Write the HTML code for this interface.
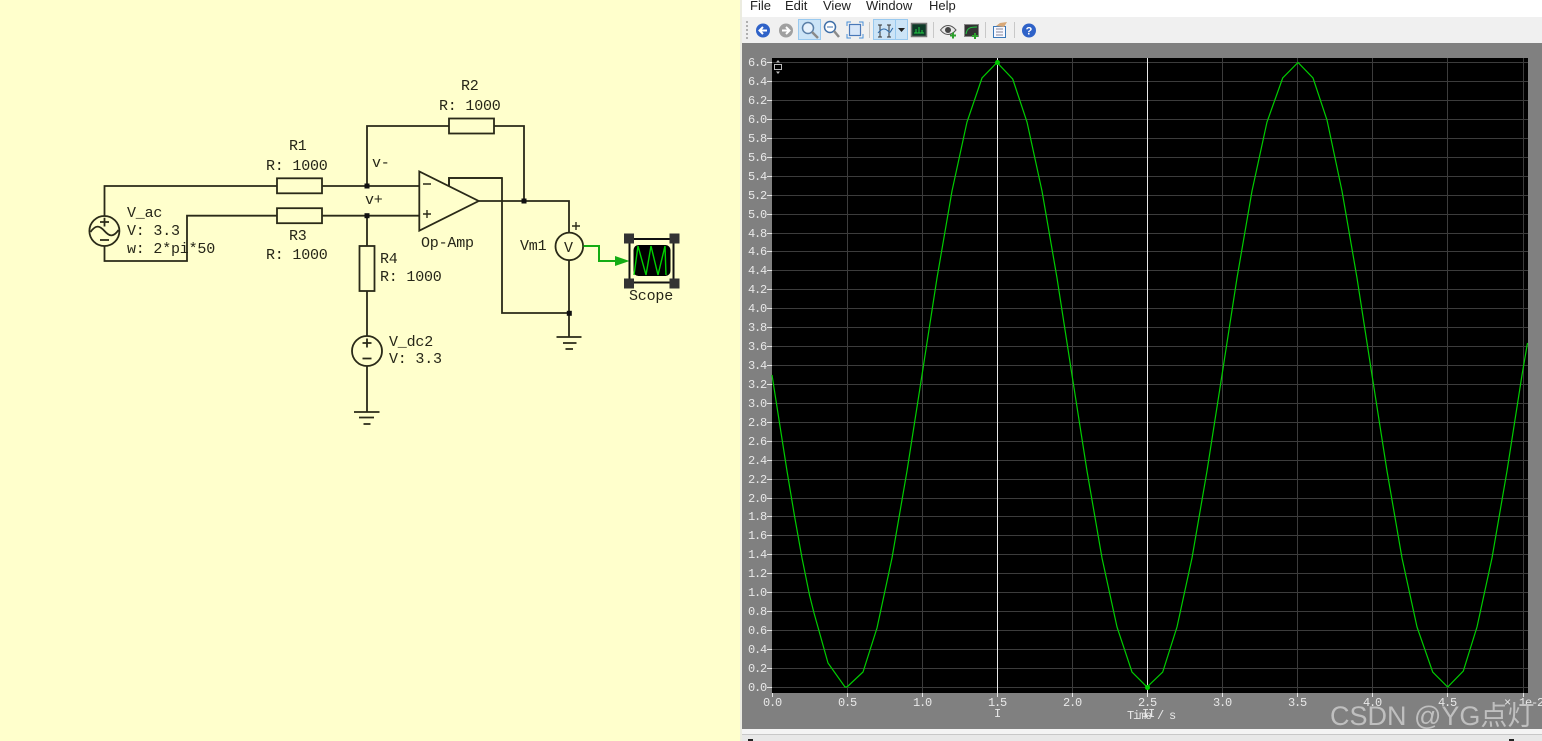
<!DOCTYPE html>
<html><head><meta charset="utf-8"><style>
html,body{margin:0;padding:0;background:#ffffcc;width:1542px;height:741px;overflow:hidden}
svg{display:block}
.m{font-family:"Liberation Mono",monospace;font-size:15px;letter-spacing:-.2px;fill:#262618}
.a{font-family:"Liberation Mono",monospace;font-size:12px;letter-spacing:-1.2px;fill:#e8e8e8}
.u{font-family:"Liberation Sans",sans-serif;font-size:13px;fill:#222}
</style></head><body>
<svg width="1542" height="741" viewBox="0 0 1542 741" xmlns="http://www.w3.org/2000/svg">
<rect width="1542" height="741" fill="#ffffcc"/>
<!-- circuit wires -->
<g fill="none" stroke="#2a2a18" stroke-width="1.8">
<path d="M104.5 216V186H277M322 186H419M104.5 246V261H187V215.7H277M322 215.7H419"/>
<path d="M367 186V126H449M494 126H524V201M367 215.7V246M367 291V336M367 366V412"/>
<path d="M479 201H569V233M569 260V337M449 186V178H502V313H569"/>
<path d="M354 412H379.5M359 417.5H374M363.5 424H370.5M556.5 337H581.5M563 343H576.5M565.5 349H573" stroke-width="1.8"/>
<rect x="277" y="178.3" width="45" height="15" fill="#ffffcc"/>
<rect x="277" y="208.2" width="45" height="15" fill="#ffffcc"/>
<rect x="449" y="118.5" width="45" height="15" fill="#ffffcc"/>
<rect x="359.5" y="246" width="15" height="45" fill="#ffffcc"/>
<path d="M419.3 171.5V230.7L478.7 201Z" fill="#ffffcc"/>
<path d="M449 186V178H502"/>
<circle cx="104.4" cy="231" r="15" fill="#ffffcc"/>
<circle cx="367" cy="351" r="15" fill="#ffffcc"/>
<circle cx="569.3" cy="246.4" r="13.8" fill="#ffffcc"/>
<path d="M90.5 232C96 224 100 226 104.5 231S113 238 118.5 230"/>
<path d="M100 222H109M104.5 217.8V226.5M100 240H109"/>
<path d="M362.5 343H371.5M367 338.5V347.5M362.5 358.5H371.5"/>
<path d="M423 184H431M423 214H431M427 210V218M572 226H580M576 222V230" stroke-width="1.4"/>
</g>
<g fill="#111">
<rect x="364.5" y="183.5" width="5" height="5"/><rect x="364.5" y="213.2" width="5" height="5"/>
<rect x="521.5" y="198.5" width="5" height="5"/><rect x="566.8" y="310.8" width="5" height="5"/>
</g>
<!-- labels -->
<g class="m">
<text x="289" y="150">R1</text><text x="266" y="170">R: 1000</text>
<text x="289" y="240">R3</text><text x="266" y="259">R: 1000</text>
<text x="461" y="90">R2</text><text x="439" y="110">R: 1000</text>
<text x="380" y="263">R4</text><text x="380" y="281">R: 1000</text>
<text x="127" y="217">V_ac</text><text x="127" y="235">V: 3.3</text><text x="127" y="253">w: 2*pi*50</text>
<text x="389" y="346">V_dc2</text><text x="389" y="363">V: 3.3</text>
<text x="372" y="167">v-</text><text x="365" y="204">v+</text>
<text x="421" y="247">Op-Amp</text><text x="520" y="250">Vm1</text><text x="564" y="252">V</text>
<text x="629" y="300">Scope</text>
</g>
<!-- signal + scope -->
<path d="M583.5 246H599V261H616" fill="none" stroke="#14ac14" stroke-width="2"/>
<path d="M615 256L629.5 261L615 266Z" fill="#14ac14"/>
<rect x="629.5" y="239" width="44" height="43.5" fill="#ffffcc" stroke="#111" stroke-width="2"/>
<rect x="633.5" y="245" width="37" height="31" rx="5" fill="#000"/>
<path d="M634 275L638 246L646 275L651 246L658 275L665 246L666 275" fill="none" stroke="#00d000" stroke-width="1.4"/>
<g fill="#333"><rect x="624" y="233.5" width="10" height="10"/><rect x="669.5" y="233.5" width="10" height="10"/><rect x="624" y="278.5" width="10" height="10"/><rect x="669.5" y="278.5" width="10" height="10"/></g>

<!-- window -->
<rect x="740" y="0" width="802" height="18" fill="#fff"/>
<rect x="742" y="17" width="800" height="26" fill="#f0f0f0"/>
<rect x="742" y="43" width="800" height="686" fill="#808080"/>
<rect x="740" y="0" width="2" height="741" fill="#ecece0"/>
<rect x="742" y="729" width="800" height="5" fill="#f4f4f4"/>
<rect x="742" y="734" width="800" height="7" fill="#e8e8e8"/>
<rect x="742" y="734" width="800" height="1" fill="#c8c8c8"/>
<rect x="748" y="739" width="5" height="2" fill="#222"/><rect x="1509" y="739" width="5" height="2" fill="#222"/>
<g class="u"><text x="750" y="10">File</text><text x="785" y="10">Edit</text><text x="823" y="10">View</text><text x="866" y="10">Window</text><text x="929" y="10">Help</text></g>
<!-- toolbar -->
<g fill="#b0b0b0"><rect x="746" y="21" width="2" height="2"/><rect x="746" y="25" width="2" height="2"/><rect x="746" y="29" width="2" height="2"/><rect x="746" y="33" width="2" height="2"/><rect x="746" y="37" width="2" height="2"/></g>
<circle cx="763" cy="30.5" r="7" fill="#2f62c8"/><path d="M767 30.5H760M763 27L759.5 30.5L763 34" fill="none" stroke="#fff" stroke-width="2"/>
<circle cx="786" cy="30.5" r="7" fill="#a0a0a0"/><path d="M782 30.5H789M786 27L789.5 30.5L786 34" fill="none" stroke="#fff" stroke-width="2"/>
<rect x="798.5" y="19.5" width="22" height="20" fill="#cce4f7" stroke="#99c9ef"/>
<circle cx="808" cy="28" r="5.5" fill="#e8f2fc" stroke="#5a7fa8" stroke-width="1.5"/><path d="M812 32L818 38" stroke="#8a8a8a" stroke-width="2.5"/>
<circle cx="830" cy="27" r="5.5" fill="#fff" stroke="#3f6fa8" stroke-width="1.5"/><path d="M827 27H833" stroke="#3f6fa8"/><path d="M834 31L839 37" stroke="#8a8a8a" stroke-width="2.5"/>
<rect x="849.5" y="24.5" width="11" height="11" fill="#d7e6f8" stroke="#4a78b8" stroke-width="1.2"/><path d="M847 26V22H851M859 22H863V26M863 34V38H859M851 38H847V34" fill="none" stroke="#4a90d8"/>
<rect x="869" y="22" width="1" height="16" fill="#c8c8c8"/>
<rect x="873.5" y="19.5" width="34" height="20" fill="#cce4f7" stroke="#99c9ef"/><rect x="895" y="20" width="1" height="19" fill="#99c9ef"/>
<path d="M880 25V37M889 25V37M878 25H882M878 37H882M887 25H891M887 37H891" stroke="#333" fill="none"/><path d="M878 33C882 28 885 28 888 31S890 31 893 28" stroke="#2f6aa8" fill="none"/>
<path d="M898 28H905L901.5 32Z" fill="#222"/>
<rect x="911.5" y="23.5" width="15" height="13" fill="#0e3a28" stroke="#777" stroke-width="1.5"/><path d="M914 33H924M916 33V29M919 33V27M922 33V30" stroke="#22cc44"/>
<rect x="933" y="22" width="1" height="16" fill="#c8c8c8"/>
<path d="M940.5 30C945 24 951 24 956 30C951 36 945 36 940.5 30Z" fill="#e8e8e8" stroke="#555"/><circle cx="948" cy="30" r="3" fill="#444"/><path d="M950 35.5H956M953 32.5V38.5" stroke="#2ca02c" stroke-width="2"/>
<rect x="964.5" y="24.5" width="14" height="12" fill="#333" stroke="#888"/><path d="M966 34C967 28 970 27 977 27" stroke="#22cc44" fill="none"/><path d="M972 36H978M975 33V39" stroke="#2ca02c" stroke-width="2"/>
<rect x="985" y="22" width="1" height="16" fill="#c8c8c8"/>
<rect x="993.5" y="26.5" width="12" height="11" fill="#f8f8ff" stroke="#3a78b8"/><path d="M996 29H1003M996 32H1003M996 35H1003" stroke="#889"/><path d="M996 26L1000 23L1007 22L1004 27Z" fill="#d8a878"/>
<rect x="1014" y="22" width="1" height="16" fill="#c8c8c8"/>
<circle cx="1029" cy="30.5" r="7" fill="#2f62c8"/><text x="1029" y="34.5" text-anchor="middle" font-family="Liberation Sans" font-weight="bold" font-size="11" fill="#fff">?</text>

<!-- plot -->
<rect x="772" y="58" width="756" height="635" fill="#000"/>
<path stroke="#3c3c3c" stroke-width="1" fill="none" d="M772 62.5H1528M772 81.5H1528M772 100.5H1528M772 119.5H1528M772 138.5H1528M772 157.5H1528M772 176.5H1528M772 195.5H1528M772 214.5H1528M772 233.5H1528M772 251.5H1528M772 270.5H1528M772 289.5H1528M772 308.5H1528M772 327.5H1528M772 346.5H1528M772 365.5H1528M772 384.5H1528M772 403.5H1528M772 422.5H1528M772 441.5H1528M772 460.5H1528M772 479.5H1528M772 498.5H1528M772 516.5H1528M772 535.5H1528M772 554.5H1528M772 573.5H1528M772 592.5H1528M772 611.5H1528M772 630.5H1528M772 649.5H1528M772 668.5H1528M772 687.5H1528M847.5 58V693M922.5 58V693M1072.5 58V693M1222.5 58V693M1297.5 58V693M1372.5 58V693M1447.5 58V693M1523.5 58V693"/>
<path stroke="#e8e8e8" stroke-width="1" fill="none" d="M997.5 58V697M1147.5 58V697"/>
<path stroke="#e8e8e8" stroke-width="1" fill="none" d="M767 62.5H772M767 81.5H772M767 100.5H772M767 119.5H772M767 138.5H772M767 157.5H772M767 176.5H772M767 195.5H772M767 214.5H772M767 233.5H772M767 251.5H772M767 270.5H772M767 289.5H772M767 308.5H772M767 327.5H772M767 346.5H772M767 365.5H772M767 384.5H772M767 403.5H772M767 422.5H772M767 441.5H772M767 460.5H772M767 479.5H772M767 498.5H772M767 516.5H772M767 535.5H772M767 554.5H772M767 573.5H772M767 592.5H772M767 611.5H772M767 630.5H772M767 649.5H772M767 668.5H772M767 687.5H772M772.5 693V697M847.5 693V697M922.5 693V697M1072.5 693V697M1222.5 693V697M1297.5 693V697M1372.5 693V697M1447.5 693V697M1523.5 693V697"/>
<polyline fill="none" stroke="#00cc00" stroke-width="1.2" points="772,375 779.5,423 787,471 794.5,516 802,558 809.5,595 814,613 828,663 845,687 847,687 863,672 877,628 892,558 907,471 922,375 937,278 952,191 967,122 982,78 997,62.5 1012.7,79 1027,122 1042,191 1057,278 1072,375 1087,471 1102,558 1117,627 1132,672 1147,687 1162.7,672 1177,627 1192,558 1207,471 1222,375 1237,278 1252,191 1267,122 1282.7,78 1298,62.5 1313,78 1327,120 1342,191 1357,278 1372,375 1387,471 1402,558 1417,627 1432.7,672 1447.7,687 1463.3,671 1477,627 1492,558 1507,471 1522,375 1527.5,343"/>
<circle cx="997.5" cy="62.5" r="2.5" fill="#00cc00"/><circle cx="1147.5" cy="687.5" r="2.5" fill="#00cc00"/>
<rect x="774.5" y="64.5" width="7" height="5" fill="none" stroke="#bbb"/><path d="M776 62.5L778 60L780 62.5ZM776 71.5L778 74L780 71.5Z" fill="#bbb"/>
<g class="a">
<text x="748" y="66">6.6</text><text x="748" y="85">6.4</text><text x="748" y="104">6.2</text><text x="748" y="123">6.0</text><text x="748" y="142">5.8</text><text x="748" y="161">5.6</text><text x="748" y="180">5.4</text><text x="748" y="199">5.2</text><text x="748" y="218">5.0</text><text x="748" y="237">4.8</text><text x="748" y="255">4.6</text><text x="748" y="274">4.4</text><text x="748" y="293">4.2</text><text x="748" y="312">4.0</text><text x="748" y="331">3.8</text><text x="748" y="350">3.6</text><text x="748" y="369">3.4</text><text x="748" y="388">3.2</text><text x="748" y="407">3.0</text><text x="748" y="426">2.8</text><text x="748" y="445">2.6</text><text x="748" y="464">2.4</text><text x="748" y="483">2.2</text><text x="748" y="502">2.0</text><text x="748" y="520">1.8</text><text x="748" y="539">1.6</text><text x="748" y="558">1.4</text><text x="748" y="577">1.2</text><text x="748" y="596">1.0</text><text x="748" y="615">0.8</text><text x="748" y="634">0.6</text><text x="748" y="653">0.4</text><text x="748" y="672">0.2</text><text x="748" y="691">0.0</text>
<text x="763" y="706">0.0</text><text x="838" y="706">0.5</text><text x="913" y="706">1.0</text><text x="988" y="706">1.5</text><text x="1063" y="706">2.0</text><text x="1138" y="706">2.5</text><text x="1213" y="706">3.0</text><text x="1288" y="706">3.5</text><text x="1363" y="706">4.0</text><text x="1438" y="706">4.5</text>
<text x="994" y="717">I</text><text x="1142" y="717">II</text>
<text x="1127" y="719">Time / s</text>
<text x="1504" y="706">×</text><text x="1519" y="706">1e-2</text>
</g>
<text x="1330" y="725" font-family="Liberation Sans,Noto Sans CJK SC,sans-serif" font-size="27" fill="#c4c4c4" fill-opacity=".92">CSDN @YG点灯</text>
</svg>
</body></html>
